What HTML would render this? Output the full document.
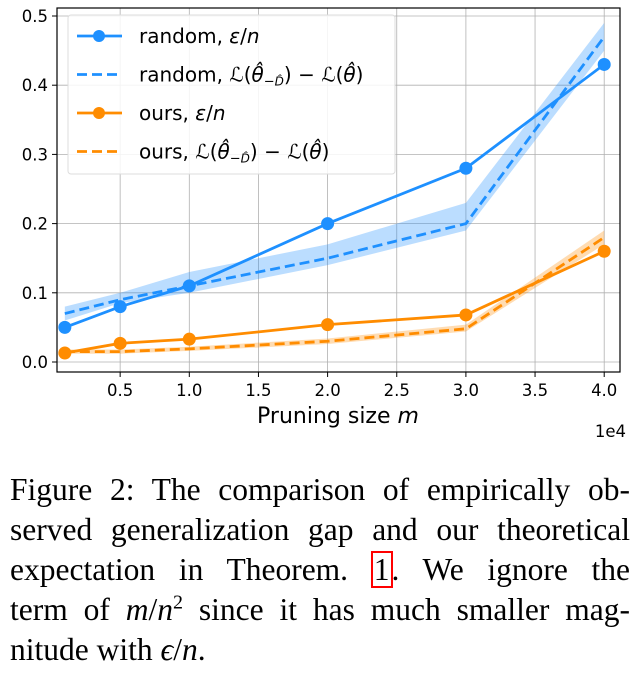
<!DOCTYPE html>
<html><head><meta charset="utf-8"><style>
body{margin:0;background:#fff;width:640px;height:681px;overflow:hidden}
.cap{position:absolute;left:10px;top:470px;width:620px;font-family:"Liberation Serif",serif;font-size:31.5px;line-height:40px;color:#000}
.ln{text-align:justify;text-align-last:justify;white-space:nowrap;height:40px}
.ln.last{text-align-last:left}
</style></head><body>
<svg id="chartsvg" width="640" height="450" style="position:absolute;left:0;top:0" font-family="DejaVu Sans, sans-serif"></svg>
<div class="cap">
<div class="ln">Figure 2: The comparison of empirically ob-</div>
<div class="ln">served generalization gap and our theoretical</div>
<div class="ln">expectation in Theorem. <span style="outline:2px solid red;outline-offset:-1px;padding:0 2px">1</span>. We ignore the</div>
<div class="ln">term of <i>m</i>/<i>n</i><sup style="font-size:20px;line-height:0">2</sup> since it has much smaller mag-</div>
<div class="ln last">nitude with <i>ϵ</i>/<i>n</i>.</div>
</div>
<script>
var xs=[1000,5000,10000,20000,30000,40000];
var randEps=[0.05,0.08,0.11,0.20,0.28,0.43];
var randLoss=[0.07,0.09,0.11,0.15,0.20,0.47];
var randLo=[0.06,0.085,0.10,0.14,0.19,0.45];
var randHi=[0.08,0.10,0.13,0.17,0.23,0.49];
var oursEps=[0.013,0.027,0.033,0.054,0.068,0.16];
var oursLoss=[0.015,0.015,0.019,0.03,0.048,0.18];
var oursLo=[0.012,0.012,0.016,0.026,0.044,0.17];
var oursHi=[0.018,0.018,0.022,0.034,0.054,0.19];
var xTicks=[0.5,1.0,1.5,2.0,2.5,3.0,3.5,4.0];
var yTicks=[0.0,0.1,0.2,0.3,0.4,0.5];
(function(){
var svg=document.getElementById('chartsvg');var NS='http://www.w3.org/2000/svg';
var PL=57,PR=620,PT=8,PB=372;
function sx(v){return 51+v/10000*138.3;}
function sy(v){return 362-v*692;}
function mk(t,a,p){var e=document.createElementNS(NS,t);for(var k in a)e.setAttribute(k,a[k]);(p||svg).appendChild(e);return e;}
function ts(parent,txt,attrs){var e=mk('tspan',attrs||{},parent);e.textContent=txt;return e;}
xTicks.forEach(function(t){var x=sx(t*10000);
var g=mk('line',{x1:x,x2:x,y1:PT,y2:PB,stroke:'#b0b0b0','stroke-width':0.8});


mk('line',{x1:x,x2:x,y1:PB,y2:PB+5,stroke:'#000'});
var tx=mk('text',{x:x,y:PB+24,'text-anchor':'middle','font-size':16.5});tx.textContent=t.toFixed(1);

});
yTicks.forEach(function(t){var y=sy(t);
var g=mk('line',{x1:PL,x2:PR,y1:y,y2:y,stroke:'#b0b0b0','stroke-width':0.8});


mk('line',{x1:PL-5,x2:PL,y1:y,y2:y,stroke:'#000'});
var tx=mk('text',{x:PL-9,y:y+6,'text-anchor':'end','font-size':16.5});tx.textContent=t.toFixed(1);

});
function band(lo,hi,c,name){var pts=[];xs.forEach(function(x,i){pts.push(sx(x)+','+sy(hi[i]));});
for(var i=xs.length-1;i>=0;i--)pts.push(sx(xs[i])+','+sy(lo[i]));
var p=mk('polygon',{points:pts.join(' '),fill:c,opacity:0.3});

}
function line(v,c,dash,name,marks){var pts=xs.map(function(x,i){return sx(x)+','+sy(v[i]);});
var a={points:pts.join(' '),fill:'none',stroke:c,'stroke-width':2.8};if(dash)a['stroke-dasharray']='10,5';
var p=mk('polyline',a);


if(marks)xs.forEach(function(x,i){var m=mk('circle',{cx:sx(x),cy:sy(v[i]),r:6.5,fill:c});

});}
band(randLo,randHi,'#1e90ff','random-loss-band');band(oursLo,oursHi,'#ff8c00','ours-loss-band');
line(randLoss,'#1e90ff',true,'random-loss-line',false);line(oursLoss,'#ff8c00',true,'ours-loss-line',false);
line(randEps,'#1e90ff',false,'random-eps-line',true);line(oursEps,'#ff8c00',false,'ours-eps-line',true);
var fr=mk('rect',{x:PL,y:PT,width:PR-PL,height:PB-PT,fill:'none',stroke:'#000','stroke-width':1.2});


var xl=mk('text',{x:338,y:423,'text-anchor':'middle','font-size':22});
ts(xl,'Pruning size ');ts(xl,'m',{'font-style':'italic'});


var ex=mk('text',{x:626,y:437,'text-anchor':'end','font-size':16.5});ex.textContent='1e4';


var lg=mk('g',{});


mk('rect',{x:68,y:15,width:327,height:159,rx:3,fill:'#fff','fill-opacity':0.85,stroke:'#ddd'},lg);
var ent=[['#1e90ff',false,'random, '],['#1e90ff',true,'random, '],['#ff8c00',false,'ours, '],['#ff8c00',true,'ours, ']];
ent.forEach(function(e,i){var y=36+i*38.5;var g=mk('g',{},lg);


var la={x1:77,x2:122,y1:y,y2:y,stroke:e[0],'stroke-width':2.8};if(e[1])la['stroke-dasharray']='10,5';
mk('line',la,g);
if(!e[1])mk('circle',{cx:99,cy:y,r:6,fill:e[0]},g);
var t=mk('text',{x:139,y:y+7,'font-size':20},g);
ts(t,e[2]);
if(!e[1]){ts(t,'ε',{'font-style':'italic'});ts(t,'/');ts(t,'n',{'font-style':'italic'});}
else{ts(t,'ℒ',{'font-style':'italic'});ts(t,'(');ts(t,'θ̂',{'font-style':'italic'});
ts(t,'−',{'font-size':13,dy:4});ts(t,'D̂',{'font-size':12,'font-style':'italic'});
ts(t,') − ',{dy:-4});ts(t,'ℒ',{'font-style':'italic'});ts(t,'(');ts(t,'θ̂',{'font-style':'italic'});ts(t,')');}
});
})();
</script>
</body></html>
